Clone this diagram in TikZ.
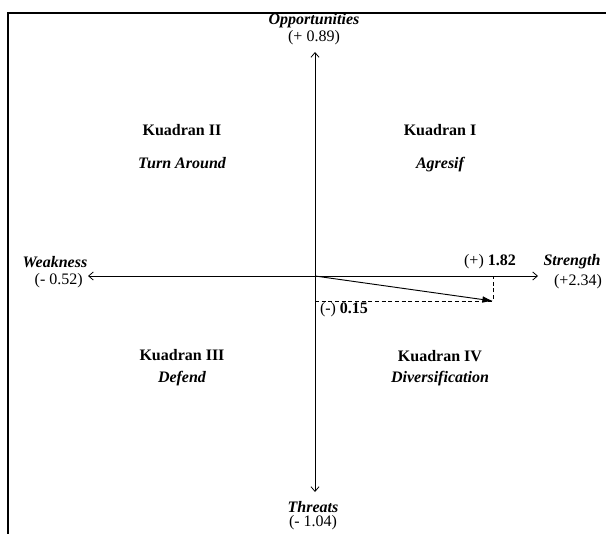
\documentclass[tikz,border=0pt]{standalone}
\usepackage{fontspec}
\setmainfont{Liberation Serif}
\usetikzlibrary{arrows.meta}
\begin{document}
\begin{tikzpicture}[x=0.75pt,y=-0.75pt,
  every node/.style={inner sep=0pt, font=\fontsize{12}{14}\selectfont},
  frameline/.style={line width=1.1pt},
  axisline/.style={line width=0.6pt, {Straight Barb[length=3.5pt,width=6pt]}-{Straight Barb[length=3.5pt,width=6pt]}},
  vecline/.style={line width=0.7pt, -{Latex[length=8pt,width=5pt]}},
  guide/.style={line width=0.6pt, dash pattern=on 3pt off 2pt},
  axtitle/.style={font=\fontsize{12}{14}\selectfont\bfseries\itshape},
  qtitle/.style={font=\fontsize{12}{14}\selectfont\bfseries},
  qsub/.style={font=\fontsize{12}{14}\selectfont\bfseries\itshape}]
\useasboundingbox (0,0) rectangle (606,534);
% frame
\coordinate (fb) at (8,534);
\coordinate (fc) at (8,13);
\coordinate (fr) at (606,13);
\draw[frameline] (fb) -- (fc) -- (fr);
% axes
\coordinate (O) at (315,276);
\coordinate (N) at (315,52);
\coordinate (S) at (315,492);
\coordinate (W) at (88,276);
\coordinate (E) at (538,276);
\draw[axisline] (W) -- (E);
\draw[axisline] (N) -- (S);
% vector
\coordinate (P) at (493,301);
\coordinate (Px) at (493,276);
\coordinate (Py) at (315,301);
\draw[guide] (Py) -- (P) -- (Px);
\draw[vecline] (O) -- (P);
% axis labels
\node[axtitle] (oppT) at (314,21) {Opportunities};
\node (oppV) at (314,38) {(+ 0.89)};
\node[axtitle] (weakT) at (55,262) {Weakness};
\node[anchor=east] (weakV) at (83,281) {(- 0.52)};
\node[axtitle] (strT) at (572,262) {Strength};
\node (strV) at (578,282) {(+2.34)};
\node[axtitle] (thrT) at (313,507) {Threats};
\node (thrV) at (313,523) {(- 1.04)};
% values
\node (xval) at (490,262) {(+) \textbf{1.82}};
\node (yval) at (344,310) {(-) \textbf{0.15}};
% quadrants
\node[qtitle] (q2) at (182,130) {Kuadran II};
\node[qsub] (q2s) at (182,163) {Turn Around};
\node[qtitle] (q1) at (440,130) {Kuadran I};
\node[qsub] (q1s) at (440,165) {Agresif};
\node[qtitle] (q3) at (182,355) {Kuadran III};
\node[qsub] (q3s) at (182,379) {Defend};
\node[qtitle] (q4) at (440,356) {Kuadran IV};
\node[qsub] (q4s) at (440,379) {Diversification};
\end{tikzpicture}
\end{document}
